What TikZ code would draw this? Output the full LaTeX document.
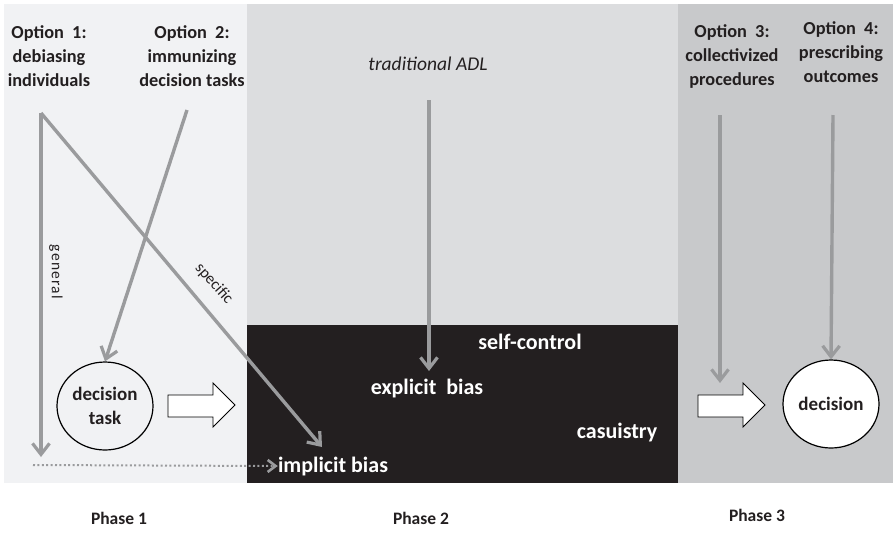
\documentclass[tikz,border=0pt]{standalone}
\usepackage{fontspec}
\setmainfont{Carlito}
\usetikzlibrary{arrows.meta,shapes.geometric}
\definecolor{pone}{HTML}{F1F2F4}
\definecolor{ptwo}{HTML}{DCDDDF}
\definecolor{pthree}{HTML}{C8C9CB}
\definecolor{pblack}{HTML}{231F20}
\definecolor{agray}{HTML}{9A9B9D}
\definecolor{txt}{HTML}{231F20}
\tikzset{
  opt/.style={align=center,font=\fontsize{18.3}{24}\selectfont\bfseries,text=txt,inner sep=0pt},
  inblack/.style={font=\fontsize{22}{24}\selectfont\bfseries,text=white,inner sep=0pt},
  phase/.style={font=\fontsize{17.5}{20}\selectfont\bfseries,text=txt,inner sep=0pt},
  garrow/.style={draw=agray,line width=3.4pt,-{Straight Barb[length=11pt,width=17pt,line width=3.2pt]}},
  small/.style={font=\fontsize{16}{18}\selectfont,text=txt,inner sep=0pt},
  circ/.style={ellipse,draw=black,line width=1.2pt,minimum width=96pt,minimum height=88pt,inner sep=0pt,align=center,font=\fontsize{19}{24}\selectfont\bfseries,text=txt},
  blockarrow/.style={draw=black,line width=0.9pt,fill=white}
}
\begin{document}
\begin{tikzpicture}[x=1pt,y=-1pt]
\useasboundingbox (0,0) rectangle (893,550);
\fill[white] (0,0) rectangle (893,550);
% panels
\fill[pone] (4,4) rectangle (247,483);
\fill[ptwo] (247,4) rectangle (678,483);
\fill[pblack] (247,325) rectangle (678,483);
\fill[pthree] (678,4) rectangle (893,483);
% texts
\node[opt] (o1) at (49,56) {Option\ \ 1:\\debiasing\\individuals};
\node[opt] (o2) at (192,56) {Option\ \ 2:\\immunizing\\decision tasks};
\node[opt] (o3) at (732,56) {Option\ \ 3:\\collectivized\\procedures};
\node[opt] (o4) at (841,52) {Option\ \ 4:\\prescribing\\outcomes};
\node[font=\fontsize{19.5}{22}\selectfont\itshape,text=txt,inner sep=0pt] (adl) at (428,64) {traditional ADL};
% black region texts
\node[inblack] (sc) at (530,342) {self-control};
\node[inblack] (eb) at (427,388) {explicit\ \ bias};
\node[inblack] (cas) at (617,432) {casuistry};
\node[inblack] (ib) at (333,466) {implicit bias};
% ellipses
\node[circ,fill=pone] (dt) at (105,406) {decision\\task};
\node[circ,fill=white] (dec) at (831,404) {decision};
% coordinates
\coordinate (s1) at (41,113);
\coordinate (g1) at (41,457);
\coordinate (s2) at (187,110);
\coordinate (sadl) at (429,100);
\coordinate (tadl) at (429,371);
\coordinate (s3) at (720,115);
\coordinate (t3) at (720,383);
\coordinate (s4) at (833,115);
\coordinate (tsp) at (322,447);
\coordinate (dstart) at (33,465);
% arrows
\draw[garrow] (s1) -- (g1);
\draw[garrow] (s1) -- (tsp);
\draw[garrow] (s2) -- (dt.north);
\draw[garrow] (sadl) -- (tadl);
\draw[garrow] (s3) -- (t3);
\draw[garrow] (s4) -- (dec.north);
\draw[draw=agray,line width=2pt,dash pattern=on 2pt off 2.4pt,-{Straight Barb[length=8pt,width=12pt,line width=2.6pt]}] (dstart) -- (ib.west);
% arrow labels
\node[small,rotate=-90,font=\fontsize{15.5}{18}\selectfont\addfontfeatures{LetterSpace=8}] (gen) at (56,272) {general};
\node[small,rotate=-48] (spec) at (214,284) {specific};
% block arrows
\draw[blockarrow] (168,395) -- (213,395) -- (213,383) -- (235,405) -- (213,427) -- (213,417) -- (168,417) -- cycle;
\draw[blockarrow] (698,395) -- (743,395) -- (743,383) -- (765,405) -- (743,427) -- (743,417) -- (698,417) -- cycle;
% phases
\node[phase] (ph1) at (119,518) {Phase 1};
\node[phase] (ph2) at (421,518) {Phase 2};
\node[phase] (ph3) at (757,515) {Phase 3};
\end{tikzpicture}
\end{document}
